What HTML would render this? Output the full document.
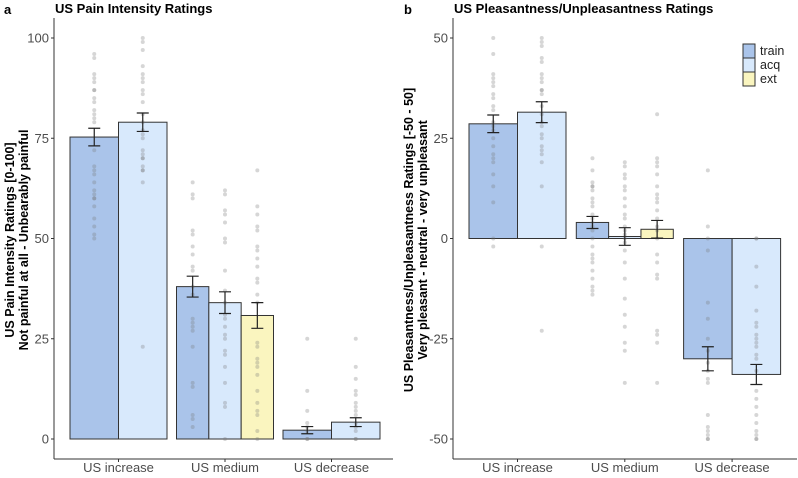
<!DOCTYPE html>
<html><head><meta charset="utf-8"><style>
body{margin:0;background:#fff;font-family:"Liberation Sans",Arial,sans-serif}
svg text{font-family:"Liberation Sans",Arial,sans-serif}
</style></head><body>
<svg id="c" width="798" height="473" viewBox="0 0 798 473" xmlns="http://www.w3.org/2000/svg">
<text x="4" y="14" font-size="13" font-weight="bold">a</text>
<text x="55" y="13" font-size="13" font-weight="bold">US Pain Intensity Ratings</text>
<text x="404" y="14" font-size="13" font-weight="bold">b</text>
<text x="454" y="13" font-size="13" font-weight="bold">US Pleasantness/Unpleasantness Ratings</text>
<text transform="translate(14,240) rotate(-90)" text-anchor="middle" font-size="12.5" font-weight="bold">US Pain Intensity Ratings [0-100]</text>
<text transform="translate(28,240) rotate(-90)" text-anchor="middle" font-size="12.5" font-weight="bold">Not painful at all - Unbearably painful</text>
<text transform="translate(413,240) rotate(-90)" text-anchor="middle" font-size="12.5" font-weight="bold">US Pleasantness/Unpleasantness Ratings [-50 - 50]</text>
<text transform="translate(427,240) rotate(-90)" text-anchor="middle" font-size="12.5" font-weight="bold">Very pleasant - neutral - very unpleasant</text>
<g id="ga"></g><g id="gb"></g>
<g>
<rect x="743" y="44" width="12" height="14" fill="#aac4ea" stroke="#333"/>
<text x="760" y="55" font-size="12.5" fill="#222">train</text>
<rect x="743" y="58" width="12" height="14" fill="#d8e9fc" stroke="#333"/>
<text x="760" y="69" font-size="12.5" fill="#222">acq</text>
<rect x="743" y="72" width="12" height="14" fill="#faf5bf" stroke="#333"/>
<text x="760" y="83" font-size="12.5" fill="#222">ext</text>
</g>
</svg>
<script>
const categories = ["US increase","US medium","US decrease"];
const phases = [["train","acq"],["train","acq","ext"],["train","acq"]];
const painMeans = [[75.3,79.0],[38.0,34.0,30.8],[2.2,4.2]];
const painErr = [[2.2,2.3],[2.6,2.7,3.2],[0.9,1.1]];
const painTicks = [0,25,50,75,100];
const pleasMeans = [[28.6,31.5],[4.0,0.5,2.3],[-30.0,-33.9]];
const pleasErr = [[2.2,2.6],[1.5,2.2,2.2],[3.0,2.5]];
const pleasTicks = [-50,-25,0,25,50];
const painPts = [
 [[96,95,91,90,89,87,87,85,84,82,81,80,79,72,68,67,66,64,62,61,60,60,58,55,53,51,50],[100,99,97,93,91,90,89,87,86,84,81,79,77,76,75,72,71,70,70,68,67,67,64,23]],
 [[64,61,60,52,51,48,46,43,42,38,36,30,29,28,27,23,14,13,6,5,3],[62,61,57,56,54,50,49,42,37,34,31,30,28,26,25,22,21,18,14,9,8,0],[67,58,56,53,52,48,47,45,43,40,39,36,34,24,23,20,19,18,16,12,9,7,6,2,0]],
 [[25,12,7,4,3,2,0,0],[25,18,15,12,11,9,8,7,6,4,3,2,0,0]]
];
const pleasPts = [
 [[50,46,41,40,39,38,36,35,33,32,29,28,27,25,23,21,20,19,16,13,9,0,-2],[50,49,48,45,44,41,40,39,37,37,36,33,31,29,28,26,25,23,22,21,19,13,-2,-23]],
 [[20,17,14,13,13,12,10,9,8,6,5,4,3,2,0,-2,-4,-5,-6,-8,-10,-12,-13,-14],[19,18,16,15,13,12,10,8,6,5,3,2,1,0,-1,-3,-6,-10,-15,-19,-22,-26,-28,-36],[31,20,19,18,16,13,11,10,9,7,5,3,2,0,-4,-6,-9,-10,-23,-24,-26,-36]],
 [[17,3,0,-3,-16,-20,-25,-28,-31,-33,-35,-36,-44,-47,-48,-49,-50,-50],[0,0,-7,-12,-18,-21,-22,-24,-25,-26,-27,-29,-30,-33,-38,-40,-42,-44,-46,-48,-49,-50,-50]]
];
const fills = {train:"#aac4ea",acq:"#d8e9fc",ext:"#faf5bf"};
const NS="http://www.w3.org/2000/svg";
function mk(g,tag,attrs){const e=document.createElementNS(NS,tag);for(const k in attrs)e.setAttribute(k,attrs[k]);g.appendChild(e);return e;}
function panel(gid,cfg){
 const g=document.getElementById(gid);
 const y=v=>cfg.y0-(v-cfg.vmin)*cfg.ppu;
 const x0=cfg.xl, step=cfg.step, gw=97;
 const ya=mk(g,"line",{x1:cfg.ax,x2:cfg.ax,y1:18,y2:459,stroke:"#333","stroke-width":1});
 
 
 const xa=mk(g,"line",{x1:cfg.ax,x2:cfg.axEnd,y1:459,y2:459,stroke:"#333","stroke-width":1});
 
 
 cfg.ticks.forEach(t=>{
  mk(g,"line",{x1:cfg.ax-3,x2:cfg.ax,y1:y(t),y2:y(t),stroke:"#333"});
  const tx=mk(g,"text",{x:cfg.ax-5,y:y(t)+4.5,"text-anchor":"end","font-size":13,fill:"#4d4d4d"});
  tx.textContent=t;
  
  
 });
 categories.forEach((c,i)=>{
  const cx=x0+i*step;
  mk(g,"line",{x1:cx,x2:cx,y1:459,y2:462,stroke:"#333"});
  const tx=mk(g,"text",{x:cx,y:472,"text-anchor":"middle","font-size":13,fill:"#4d4d4d"});
  tx.textContent=c;
  
  
  const n=phases[i].length,bw=gw/n;
  phases[i].forEach((p,j)=>{
   const bx=cx-gw/2+j*bw, m=cfg.means[i][j], yb=y(0), ym=y(m);
   const r=mk(g,"rect",{x:bx,y:Math.min(yb,ym),width:bw,height:Math.abs(yb-ym),fill:fills[p],stroke:"#333","stroke-width":1});
   
   
   const mx=bx+bw/2;
   cfg.pts[i][j].forEach(v=>{
    const d=mk(g,"circle",{cx:mx,cy:y(v),r:2,fill:"#777","fill-opacity":0.3});
    
    
   });
   const e=cfg.err[i][j], y1=y(m+e), y2=y(m-e);
   const eb=mk(g,"path",{d:`M${mx},${y1}V${y2}M${mx-6},${y1}H${mx+6}M${mx-6},${y2}H${mx+6}`,stroke:"#222","stroke-width":1.2,fill:"none"});
   
   
  });
 });
}
panel("ga",{y0:439,vmin:0,ppu:4.01,ax:54,axEnd:393,xl:118.5,step:106.5,ticks:painTicks,means:painMeans,err:painErr,pts:painPts});
panel("gb",{y0:439,vmin:-50,ppu:4.01,ax:453,axEnd:797,xl:517.5,step:107.3,ticks:pleasTicks,means:pleasMeans,err:pleasErr,pts:pleasPts});
</script>
</body></html>
